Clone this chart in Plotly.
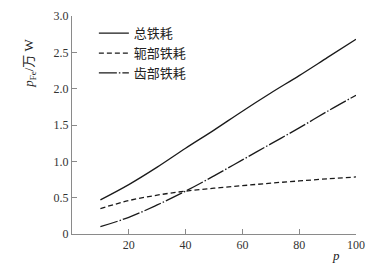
import plotly.graph_objects as go

p_vals = [10, 20, 30, 40, 50, 60, 70, 80, 90, 100]
total_loss = [0.47, 0.68, 0.92, 1.18, 1.43, 1.69, 1.94, 2.18, 2.43, 2.68]
yoke_loss = [0.35, 0.46, 0.535, 0.59, 0.63, 0.665, 0.70, 0.73, 0.76, 0.785]
teeth_loss = [0.10, 0.23, 0.40, 0.59, 0.80, 1.02, 1.24, 1.46, 1.69, 1.91]

series_names = ["总铁耗", "轭部铁耗", "齿部铁耗"]
x_ticks = [20, 40, 60, 80, 100]
y_ticks = [0, 0.5, 1.0, 1.5, 2.0, 2.5, 3.0]
y_tick_text = ["0", "0.5", "1.0", "1.5", "2.0", "2.5", "3.0"]

line_col = "#1a1a1a"
axis_col = "#8a8a8a"
serif = "Liberation Serif, DejaVu Serif, serif"
cjk = "Noto Sans CJK SC, sans-serif"

fig = go.Figure()
fig.add_trace(go.Scatter(x=p_vals, y=total_loss, mode="lines", name=series_names[0],
                         line=dict(color=line_col, width=1.3, shape="spline")))
fig.add_trace(go.Scatter(x=p_vals, y=yoke_loss, mode="lines", name=series_names[1],
                         line=dict(color=line_col, width=1.3, dash="5px,3px", shape="spline")))
fig.add_trace(go.Scatter(x=p_vals, y=teeth_loss, mode="lines", name=series_names[2],
                         line=dict(color=line_col, width=1.3, dash="18px,2px,1.5px,2px", shape="spline")))

fig.update_layout(
    width=377, height=270,
    margin=dict(l=72, r=21, t=16, b=36, autoexpand=False),
    paper_bgcolor="white", plot_bgcolor="white",
    showlegend=True,
    legend=dict(x=0.077, y=0.99, xanchor="left", yanchor="top",
                bgcolor="rgba(0,0,0,0)", borderwidth=0,
                font=dict(family=cjk, size=13, color="#222"),
                itemwidth=30, tracegroupgap=0),
    xaxis=dict(range=[0, 100], tickvals=x_ticks, ticks="inside", ticklen=5,
               tickcolor=axis_col, showline=True, linecolor=axis_col, linewidth=1,
               showgrid=False, zeroline=False,
               tickfont=dict(family=serif, size=12, color="#333")),
    yaxis=dict(range=[0, 3], tickvals=y_ticks, ticktext=y_tick_text, ticks="inside",
               ticklen=5, tickcolor=axis_col, showline=True, linecolor=axis_col,
               linewidth=1, showgrid=False, zeroline=False,
               tickfont=dict(family=serif, size=12, color="#333")),
    annotations=[
        dict(text="<i>p</i><sub>Fe</sub>/万 W", xref="paper", yref="paper",
             x=-0.148, y=0.785, xanchor="center", yanchor="middle", textangle=-90,
             showarrow=False, font=dict(family=serif + ", " + cjk, size=13, color="#222")),
        dict(text="<i>p</i>", xref="paper", yref="paper", x=0.93, y=-0.1,
             xanchor="center", yanchor="middle", showarrow=False,
             font=dict(family=serif, size=13, color="#222")),
    ],
)

fig.write_html("out.html")
